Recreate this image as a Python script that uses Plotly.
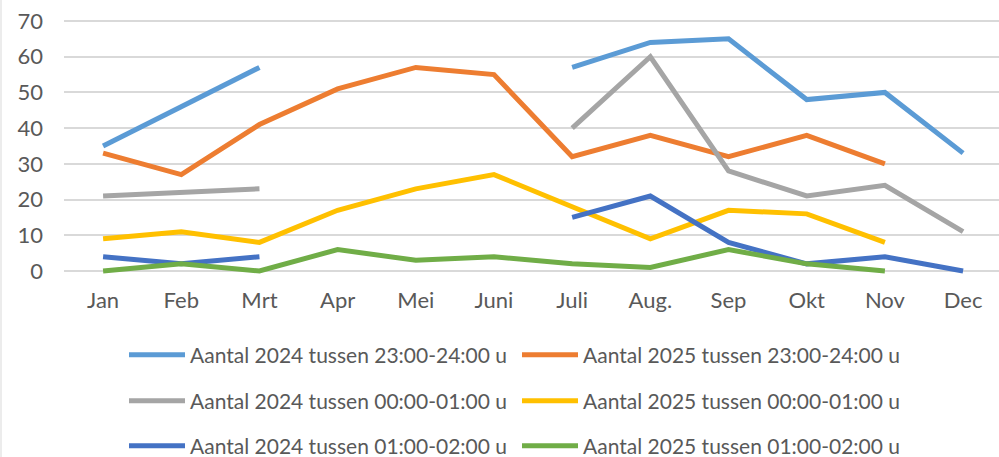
import plotly.graph_objects as go

months = ["Jan", "Feb", "Mrt", "Apr", "Mei", "Juni", "Juli", "Aug.", "Sep", "Okt", "Nov", "Dec"]

y2024_2324 = [35, 46, 57, None, None, None, 57, 64, 65, 48, 50, 33]
y2025_2324 = [33, 27, 41, 51, 57, 55, 32, 38, 32, 38, 30, None]
y2024_0001 = [21, 22, 23, None, None, None, 40, 60, 28, 21, 24, 11]
y2025_0001 = [9, 11, 8, 17, 23, 27, 18, 9, 17, 16, 8, None]
y2024_0102 = [4, 2, 4, None, None, None, 15, 21, 8, 2, 4, 0]
y2025_0102 = [0, 2, 0, 6, 3, 4, 2, 1, 6, 2, 0, None]

series = [
    ("Aantal 2024 tussen 23:00-24:00 u", y2024_2324, "#5B9BD5", "legend"),
    ("Aantal 2025 tussen 23:00-24:00 u", y2025_2324, "#ED7D31", "legend"),
    ("Aantal 2024 tussen 00:00-01:00 u", y2024_0001, "#A5A5A5", "legend2"),
    ("Aantal 2025 tussen 00:00-01:00 u", y2025_0001, "#FFC000", "legend2"),
    ("Aantal 2024 tussen 01:00-02:00 u", y2024_0102, "#4472C4", "legend3"),
    ("Aantal 2025 tussen 01:00-02:00 u", y2025_0102, "#70AD47", "legend3"),
]

FONT = "Lato"
TXT = "#595959"

fig = go.Figure()
for name, vals, color, lg in series:
    fig.add_trace(go.Scatter(
        x=list(range(len(months))), y=vals, name=name, mode="lines",
        line=dict(color=color, width=5), connectgaps=False, legend=lg,
    ))

leg_common = dict(
    orientation="h", xref="container", yref="container",
    x=124 / 999, xanchor="left", yanchor="middle",
    font=dict(family=FONT, size=21, color=TXT),
    bgcolor="rgba(0,0,0,0)", borderwidth=0,
    itemwidth=56, entrywidth=322, tracegroupgap=0,
)
rows = [355, 401, 446]

fig.update_layout(
    width=999, height=457,
    paper_bgcolor="white", plot_bgcolor="white",
    margin=dict(l=64, r=0, t=14, b=181, pad=0),
    font=dict(family=FONT, size=22, color=TXT),
    showlegend=True,
    legend=dict(leg_common, y=1 - rows[0] / 457),
    legend2=dict(leg_common, y=1 - rows[1] / 457),
    legend3=dict(leg_common, y=1 - rows[2] / 457),
    xaxis=dict(
        range=[-0.5, -0.5 + 935 / 78.18],
        tickmode="array", tickvals=list(range(len(months))), ticktext=months,
        showgrid=False, zeroline=False, showline=False, ticks="",
        ticklabelstandoff=9,
        tickfont=dict(family=FONT, size=22, color=TXT),
    ),
    yaxis=dict(
        range=[-1.4, -1.4 + 262 / 3.5714],
        tickmode="array", tickvals=[0, 10, 20, 30, 40, 50, 60, 70],
        showgrid=True, gridcolor="#D9D9D9", gridwidth=1.5,
        zeroline=False, showline=False, ticks="",
        ticklabelstandoff=20,
        tickfont=dict(family=FONT, size=22, color=TXT),
    ),
    shapes=[dict(type="line", xref="paper", yref="paper",
                 x0=-63 / 935, x1=-63 / 935, y0=-181 / 262, y1=(262 + 14) / 262,
                 line=dict(color="#D9D9D9", width=1))],
)

fig.write_html("out.html", config={"displayModeBar": False},
               post_script="document.body.style.margin='0';")
